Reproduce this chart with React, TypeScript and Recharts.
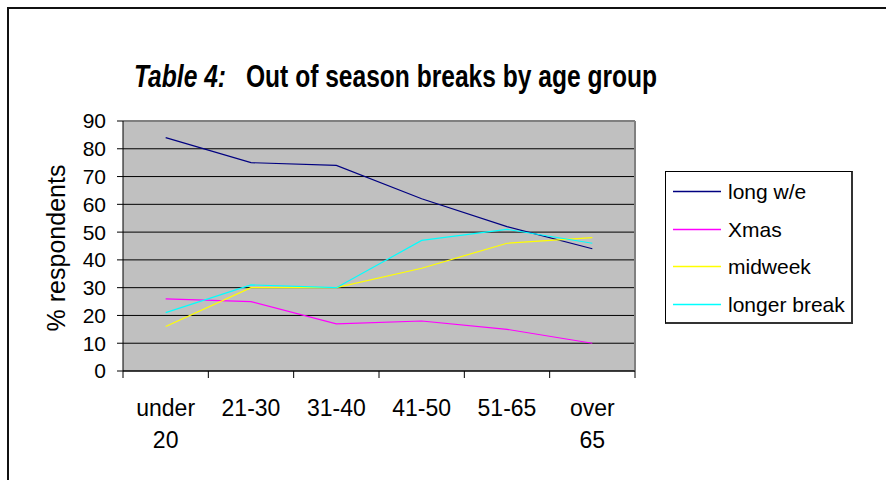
import React from 'react';
import { LineChart, Line, XAxis, YAxis, CartesianGrid, ReferenceLine } from 'recharts';

const categories = ['under 20', '21-30', '31-40', '41-50', '51-65', 'over 65'];
const longWeekend = [84, 75, 74, 62, 52, 44];
const xmas = [26, 25, 17, 18, 15, 10];
const midweek = [16, 30, 30, 37, 46, 48];
const longerBreak = [21, 31, 30, 47, 51, 46];
const yTicks = [0, 10, 20, 30, 40, 50, 60, 70, 80, 90];
const seriesNames = ['long w/e', 'Xmas', 'midweek', 'longer break'];
const seriesKeys = ['lw', 'xmas', 'mid', 'lb'];
const seriesColors = ['#000080', '#FF00FF', '#FFFF00', '#00FFFF'];

const FONT = '"Liberation Sans", Arial, sans-serif';

const data = categories.map((c, i) => ({
  pos: i + 0.5,
  label: c,
  lw: longWeekend[i],
  xmas: xmas[i],
  mid: midweek[i],
  lb: longerBreak[i],
}));

const CatTick = (props: any) => {
  const { x, y, payload } = props;
  const idx = Math.round(payload.value - 0.5);
  const lines = (categories[idx] || '').split(' ');
  return (
    <text x={x} y={y} textAnchor="middle" fontSize={23} fontFamily={FONT} fill="#000">
      {lines.map((l, k) => (
        <tspan key={k} x={x} dy={k === 0 ? 35 : 32}>
          {l}
        </tspan>
      ))}
    </text>
  );
};

const YLabel = (p: any) => {
  const vb = p.viewBox || { x: 0, y: 0, width: 0, height: 0 };
  const cx = vb.x + 56;
  const cy = vb.y + vb.height / 2 + 2;
  return (
    <text
      x={cx}
      y={cy}
      transform={`rotate(-90 ${cx} ${cy})`}
      textAnchor="middle"
      dominantBaseline="central"
      fontSize={25}
      fontFamily={FONT}
      fill="#000"
    >
      % respondents
    </text>
  );
};

export default function App() {
  return (
    <div style={{ position: 'absolute', left: 0, top: 0, width: 886, height: 480, overflow: 'hidden', background: '#fff' }}>
      <div
        style={{
          position: 'absolute',
          left: 7,
          top: 7,
          width: 1000,
          height: 1000,
          borderLeft: '2px solid #111',
          borderTop: '2px solid #111',
        }}
      />
      <svg width={886} height={480} style={{ position: 'absolute', left: 0, top: 0 }}>
        <text
          x={134}
          y={87}
          textLength={92}
          lengthAdjust="spacingAndGlyphs"
          fontSize={31}
          fontWeight="bold"
          fontStyle="italic"
          fontFamily={FONT}
          fill="#000"
        >
          Table 4:
        </text>
        <text
          x={246}
          y={87}
          textLength={411}
          lengthAdjust="spacingAndGlyphs"
          fontSize={31}
          fontWeight="bold"
          fontFamily={FONT}
          fill="#000"
        >
          Out of season breaks by age group
        </text>
      </svg>
      <div style={{ position: 'absolute', left: 0, top: 0 }}>
        <LineChart width={886} height={480} data={data} margin={{ top: 121, right: 251, bottom: 0, left: 0 }}>
          <CartesianGrid xAxisId="grid" vertical={false} stroke="#000" fill="#C0C0C0" fillOpacity={1} />
          <XAxis
            xAxisId="grid"
            type="number"
            dataKey="pos"
            domain={[0, 6]}
            ticks={[0, 1, 2, 3, 4, 5, 6]}
            interval={0}
            tickFormatter={() => ''}
            tickSize={7}
            height={10}
            stroke="#000"
            axisLine={{ stroke: '#000' }}
            tickLine={{ stroke: '#000' }}
          />
          <XAxis
            xAxisId="labels"
            type="number"
            dataKey="pos"
            domain={[0, 6]}
            ticks={categories.map((_, i) => i + 0.5)}
            interval={0}
            tick={<CatTick />}
            tickLine={false}
            axisLine={false}
            tickSize={0}
            tickMargin={0}
            height={99}
          />
          <YAxis
            type="number"
            domain={[0, 90]}
            ticks={yTicks}
            interval={0}
            width={123}
            tickSize={6}
            tickMargin={11}
            axisLine={{ stroke: '#000' }}
            tickLine={{ stroke: '#000' }}
            tick={{ fontSize: 21, fontFamily: FONT, fill: '#000' }}
            label={{ content: <YLabel /> }}
          />
          <ReferenceLine xAxisId="grid" y={90} stroke="#808080" strokeWidth={2} />
          <ReferenceLine xAxisId="grid" x={6} stroke="#808080" strokeWidth={2} />
          {seriesKeys.map((k, i) => (
            <Line
              key={k}
              xAxisId="grid"
              type="linear"
              dataKey={k}
              name={seriesNames[i]}
              stroke={seriesColors[i]}
              strokeWidth={1.2}
              dot={false}
              activeDot={false}
              isAnimationActive={false}
            />
          ))}
        </LineChart>
      </div>
      <div
        style={{
          position: 'absolute',
          left: 665,
          top: 171,
          width: 188,
          height: 153,
          boxSizing: 'border-box',
          border: '1px solid #000',
          borderRight: '2px solid #333',
          borderBottom: '2px solid #333',
          background: '#fff',
        }}
      >
        <svg width={186} height={151} style={{ position: 'absolute', left: 0, top: 0 }}>
          {seriesNames.map((n, i) => {
            const cy = Math.round(19 + i * 37.7);
            return (
              <g key={n}>
                <line x1={7} x2={55} y1={cy + 0.5} y2={cy + 0.5} stroke={seriesColors[i]} strokeWidth={1.5} />
                <text x={62} y={cy} dominantBaseline="central" fontSize={21} fontFamily={FONT} fill="#000">
                  {n}
                </text>
              </g>
            );
          })}
        </svg>
      </div>
    </div>
  );
}
